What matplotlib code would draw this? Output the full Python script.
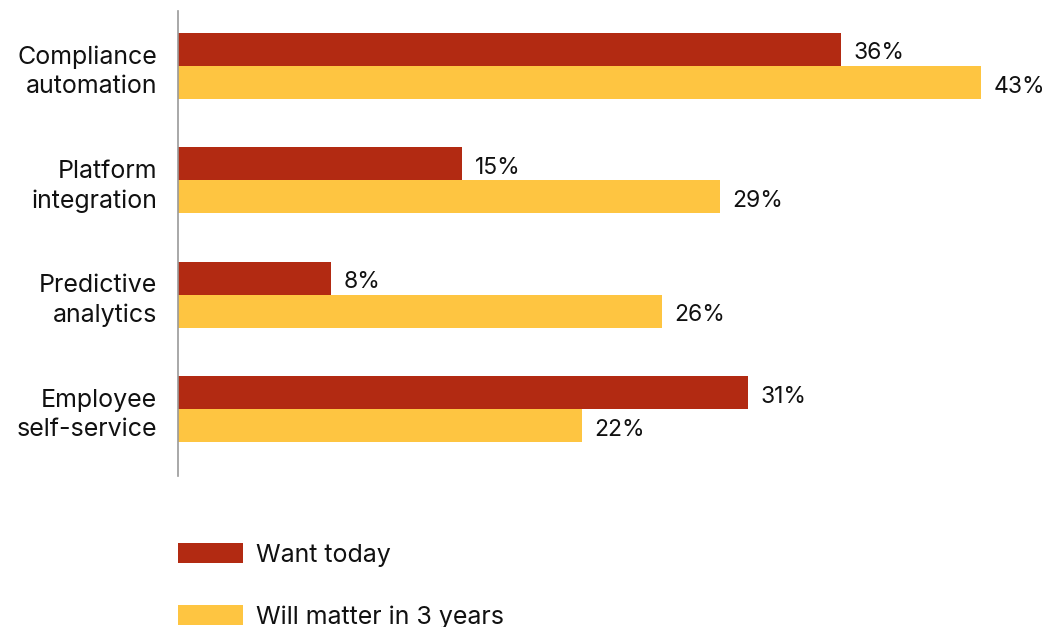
import numpy as np
import matplotlib.pyplot as plt

plt.rcParams['font.family'] = ['Inter', 'DejaVu Sans']

# data
categories = ["Compliance\nautomation", "Platform\nintegration",
              "Predictive\nanalytics", "Employee\nself-service"]
want_today = [35.5, 15.2, 8.2, 30.5]
in_3_years = [43.0, 29.0, 25.9, 21.6]
want_labels = ["36%", "15%", "8%", "31%"]
future_labels = ["43%", "29%", "26%", "22%"]
series_names = ["Want today", "Will matter in 3 years"]

RED = "#B22A12"
YELLOW = "#FEC541"

fig = plt.figure(figsize=(10.45, 6.27), dpi=100)
ax = fig.add_axes([178 / 1045, 1 - 476 / 627, 1 - 178 / 1045, 465 / 627])

y = np.arange(len(categories))
h = 0.29
b1 = ax.barh(y - h / 2, want_today, height=h, color=RED, label=series_names[0])
b2 = ax.barh(y + h / 2, in_3_years, height=h, color=YELLOW, label=series_names[1])

for bars, labs in ((b1, want_labels), (b2, future_labels)):
    for bar, lab in zip(bars, labs):
        ax.annotate(lab, (bar.get_width(), bar.get_y() + bar.get_height() / 2),
                    xytext=(9, -3), textcoords="offset points",
                    ha="left", va="center", fontsize=16.5, color="#111111",
                    annotation_clip=False)

ax.set_xlim(0, 46.4)
ax.set_ylim(3.585, -0.48)
ax.set_yticks(y)
ax.set_yticklabels(categories, fontsize=18, color="#111111", linespacing=1.35)
ax.tick_params(axis="y", length=0, pad=15)
ax.set_xticks([])
for side in ("top", "right", "bottom"):
    ax.spines[side].set_visible(False)
ax.spines["left"].set_color("#999999")
ax.spines["left"].set_linewidth(1.2)

leg = ax.legend(loc="upper left", bbox_to_anchor=(178 / 1045, 1 - 543 / 627),
                bbox_transform=fig.transFigure, frameon=False, fontsize=18,
                handlelength=2.6, handleheight=0.88, handletextpad=0.5,
                labelspacing=1.52, borderpad=0, borderaxespad=0)
for t in leg.get_texts():
    t.set_color("#111111")

fig.savefig("out.png", dpi=100)
